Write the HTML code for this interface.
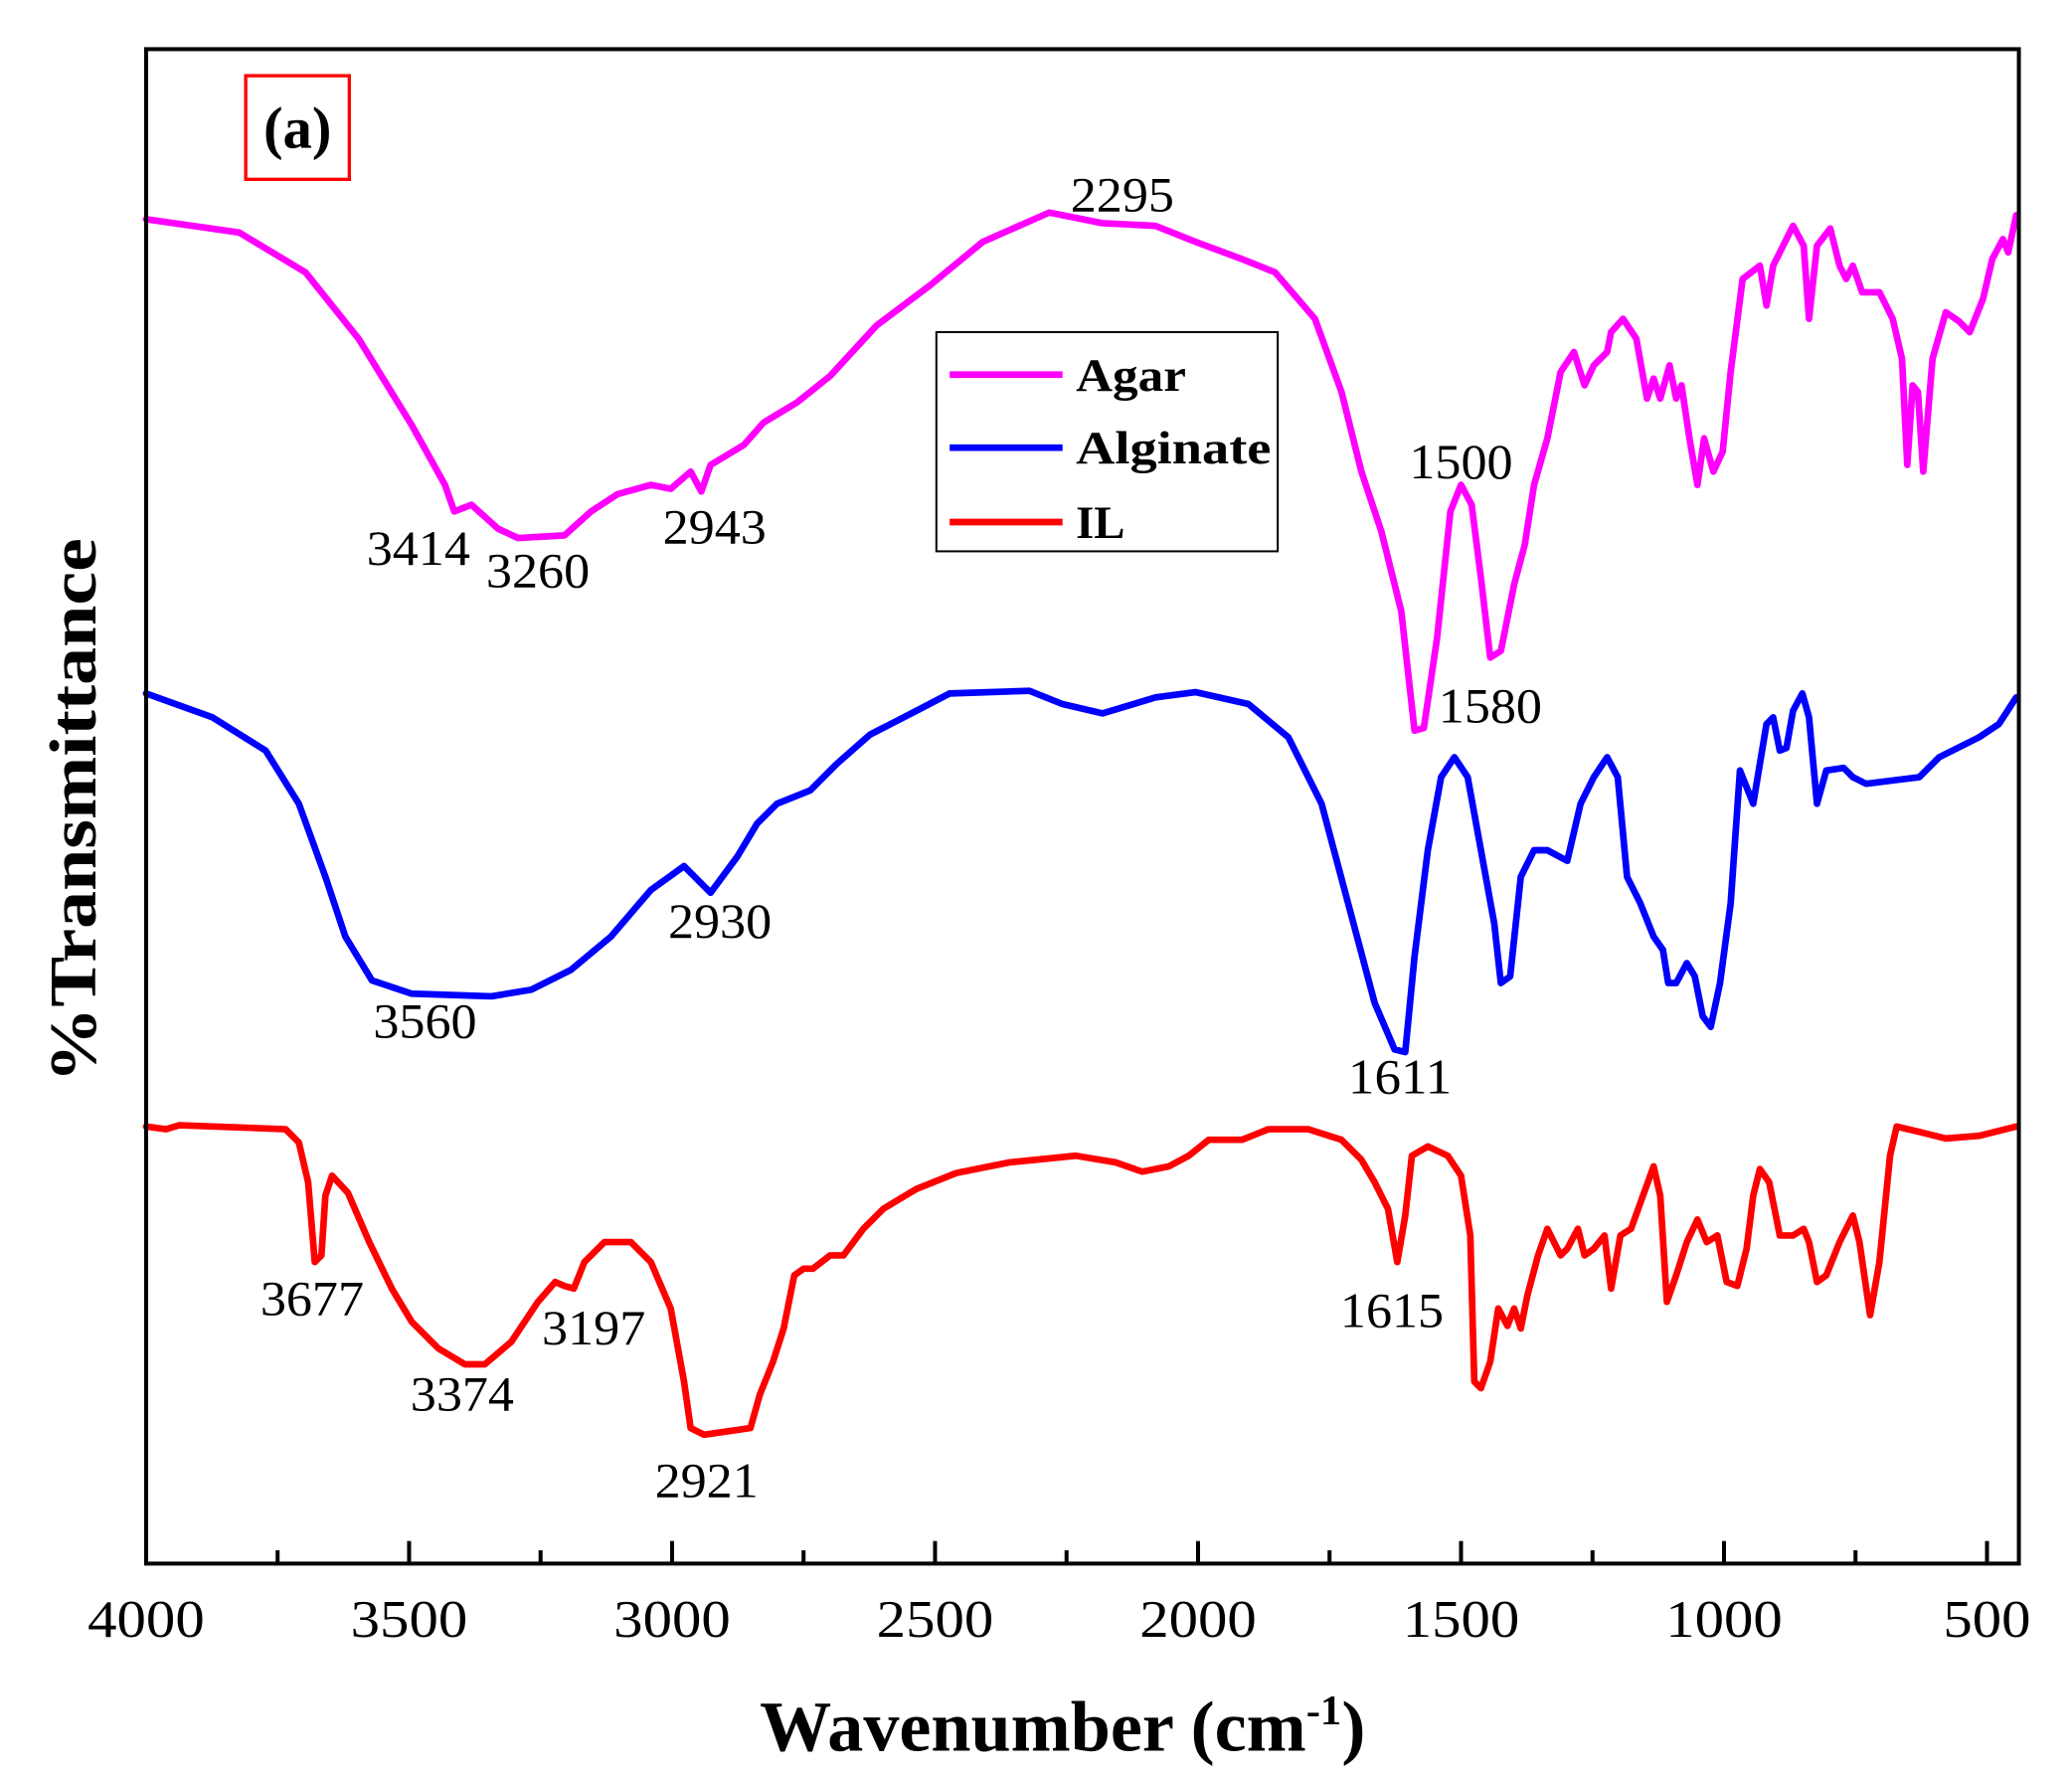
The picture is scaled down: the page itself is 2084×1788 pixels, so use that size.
<!DOCTYPE html>
<html><head><meta charset="utf-8"><style>html,body{margin:0;padding:0;background:#fff}svg{display:block}</style></head>
<body>
<svg width="2084" height="1788" viewBox="0 0 1560 1338.4" preserveAspectRatio="none" xmlns="http://www.w3.org/2000/svg" font-family="'Liberation Serif', serif">
<rect width="1560" height="1338.4" fill="#fff"/>
<g fill="none" stroke-width="5" stroke-linejoin="round" stroke-linecap="round">
<polyline stroke="#ff00ff" points="110,165 180,175 230,205 270,255 310,320 335,365 342,385 355,380 375,398 390,405 425,403 445,385 465,372 490,365 505,368 520,355 528,370 535,350 560,335 575,318 600,303 625,283 660,245 700,215 740,182 790,160 830,168 870,170 900,182 935,195 960,205 990,240 1010,295 1025,355 1040,400 1055,460 1065,550 1072,548 1082,480 1092,385 1100,365 1108,380 1115,435 1122,495 1130,490 1140,440 1148,410 1155,365 1165,330 1175,280 1185,265 1193,290 1200,275 1210,265 1213,250 1222,240 1232,255 1240,300 1245,285 1250,300 1257,275 1262,300 1266,290 1272,330 1278,365 1283,330 1290,355 1297,340 1303,280 1312,210 1325,200 1330,230 1335,200 1350,170 1358,185 1362,240 1368,185 1378,172 1385,200 1390,210 1395,200 1402,220 1415,220 1425,240 1432,270 1436,350 1440,290 1444,295 1448,355 1455,270 1465,235 1475,242 1483,250 1493,225 1500,195 1508,180 1512,190 1518,162"/>
<polyline stroke="#0000ff" points="110,522 160,540 200,565 225,605 245,660 260,705 280,738 310,748 370,750 400,745 430,730 460,705 490,670 515,652 535,672 555,645 570,620 585,605 610,595 630,575 655,553 690,535 715,522 775,520 800,530 830,537 870,525 900,521 940,530 970,555 995,605 1015,680 1035,755 1050,790 1058,792 1065,720 1075,640 1085,585 1095,570 1105,585 1115,640 1125,695 1130,740 1137,735 1145,660 1155,640 1165,640 1180,648 1190,605 1200,585 1210,570 1218,585 1225,660 1235,680 1245,705 1252,715 1256,740 1262,740 1270,725 1276,735 1282,765 1288,773 1295,740 1303,680 1310,580 1320,605 1330,545 1335,540 1340,565 1345,563 1350,535 1357,522 1362,540 1368,605 1375,580 1388,578 1395,585 1405,590 1445,585 1460,570 1490,555 1505,545 1518,525"/>
<polyline stroke="#ff0000" points="110,848 125,850 135,847 215,850 225,860 232,890 237,950 242,945 245,900 250,885 262,898 278,935 295,970 310,995 330,1015 350,1027 365,1027 385,1010 405,980 418,965 425,968 432,970 440,950 455,935 475,935 490,950 505,985 515,1040 520,1075 530,1080 565,1075 572,1050 582,1025 590,1000 598,960 605,955 612,955 625,945 635,945 650,925 665,910 690,895 720,883 760,875 810,870 840,875 860,882 880,878 895,870 910,858 935,858 955,850 985,850 1010,858 1025,873 1035,890 1045,910 1052,950 1058,915 1063,870 1075,863 1090,870 1100,885 1107,930 1110,1040 1115,1045 1122,1025 1128,985 1135,998 1140,985 1145,1000 1150,975 1158,945 1165,925 1175,945 1180,940 1188,925 1193,945 1200,940 1208,930 1213,970 1220,930 1228,925 1237,900 1245,878 1250,900 1255,980 1262,960 1270,935 1278,918 1285,935 1293,930 1300,965 1308,968 1315,940 1320,900 1325,880 1332,890 1340,930 1350,930 1358,925 1362,935 1368,965 1375,960 1385,935 1395,915 1400,935 1408,990 1415,950 1423,870 1428,848 1445,852 1465,857 1490,855 1518,848"/>
</g>
<rect x="110" y="37" width="1410" height="1140" fill="none" stroke="#000" stroke-width="3"/>
<g stroke="#000" stroke-width="3">
<line x1="209" y1="1177" x2="209" y2="1167"/><line x1="308" y1="1177" x2="308" y2="1160"/>
<line x1="407" y1="1177" x2="407" y2="1167"/><line x1="506" y1="1177" x2="506" y2="1160"/>
<line x1="605" y1="1177" x2="605" y2="1167"/><line x1="704" y1="1177" x2="704" y2="1160"/>
<line x1="803" y1="1177" x2="803" y2="1167"/><line x1="902" y1="1177" x2="902" y2="1160"/>
<line x1="1001" y1="1177" x2="1001" y2="1167"/><line x1="1100" y1="1177" x2="1100" y2="1160"/>
<line x1="1199" y1="1177" x2="1199" y2="1167"/><line x1="1298" y1="1177" x2="1298" y2="1160"/>
<line x1="1397" y1="1177" x2="1397" y2="1167"/><line x1="1496" y1="1177" x2="1496" y2="1160"/>
</g>
<g font-size="40" text-anchor="middle" lengthAdjust="spacingAndGlyphs">
<text x="110" y="1232" textLength="88" lengthAdjust="spacingAndGlyphs">4000</text><text x="308" y="1232" textLength="88" lengthAdjust="spacingAndGlyphs">3500</text><text x="506" y="1232" textLength="88" lengthAdjust="spacingAndGlyphs">3000</text>
<text x="704" y="1232" textLength="88" lengthAdjust="spacingAndGlyphs">2500</text><text x="902" y="1232" textLength="88" lengthAdjust="spacingAndGlyphs">2000</text><text x="1100" y="1232" textLength="88" lengthAdjust="spacingAndGlyphs">1500</text>
<text x="1298" y="1232" textLength="88" lengthAdjust="spacingAndGlyphs">1000</text><text x="1496" y="1232" textLength="66" lengthAdjust="spacingAndGlyphs">500</text>
</g>
<g font-size="37" text-anchor="middle">
<text x="315" y="425" textLength="78" lengthAdjust="spacingAndGlyphs">3414</text><text x="405" y="442" textLength="78" lengthAdjust="spacingAndGlyphs">3260</text><text x="538" y="409" textLength="78" lengthAdjust="spacingAndGlyphs">2943</text>
<text x="845" y="159" textLength="78" lengthAdjust="spacingAndGlyphs">2295</text><text x="1100" y="360" textLength="78" lengthAdjust="spacingAndGlyphs">1500</text><text x="1122" y="544" textLength="78" lengthAdjust="spacingAndGlyphs">1580</text>
<text x="542" y="706" textLength="78" lengthAdjust="spacingAndGlyphs">2930</text><text x="320" y="781" textLength="78" lengthAdjust="spacingAndGlyphs">3560</text><text x="1054" y="823" textLength="78" lengthAdjust="spacingAndGlyphs">1611</text>
<text x="235" y="990" textLength="78" lengthAdjust="spacingAndGlyphs">3677</text><text x="348" y="1062" textLength="78" lengthAdjust="spacingAndGlyphs">3374</text><text x="447" y="1012" textLength="78" lengthAdjust="spacingAndGlyphs">3197</text>
<text x="532" y="1127" textLength="78" lengthAdjust="spacingAndGlyphs">2921</text><text x="1048" y="999" textLength="78" lengthAdjust="spacingAndGlyphs">1615</text>
</g>
<rect x="705" y="250" width="257" height="165" fill="#fff" stroke="#000" stroke-width="1.5"/>
<g stroke-width="5"><line x1="715" y1="282" x2="800" y2="282" stroke="#ff00ff"/><line x1="715" y1="337" x2="800" y2="337" stroke="#0000ff"/><line x1="715" y1="393" x2="800" y2="393" stroke="#ff0000"/></g>
<g font-size="35" font-weight="bold"><text x="810" y="294" textLength="83" lengthAdjust="spacingAndGlyphs">Agar</text><text x="810" y="349" textLength="147" lengthAdjust="spacingAndGlyphs">Alginate</text><text x="810" y="405">IL</text></g>
<rect x="185" y="57" width="78" height="78" fill="none" stroke="#ff0000" stroke-width="2.5"/>
<text x="224" y="111" font-size="44" font-weight="bold" text-anchor="middle">(a)</text>
<text transform="translate(72,610) rotate(-90)" font-size="50" font-weight="bold" text-anchor="middle" textLength="410" lengthAdjust="spacingAndGlyphs">%Transmittance</text>
<text x="572" y="1318" font-size="54" font-weight="bold">Wavenumber (cm<tspan dy="-20" font-size="32">-1</tspan><tspan dy="20">)</tspan></text>
</svg>
</body></html>
